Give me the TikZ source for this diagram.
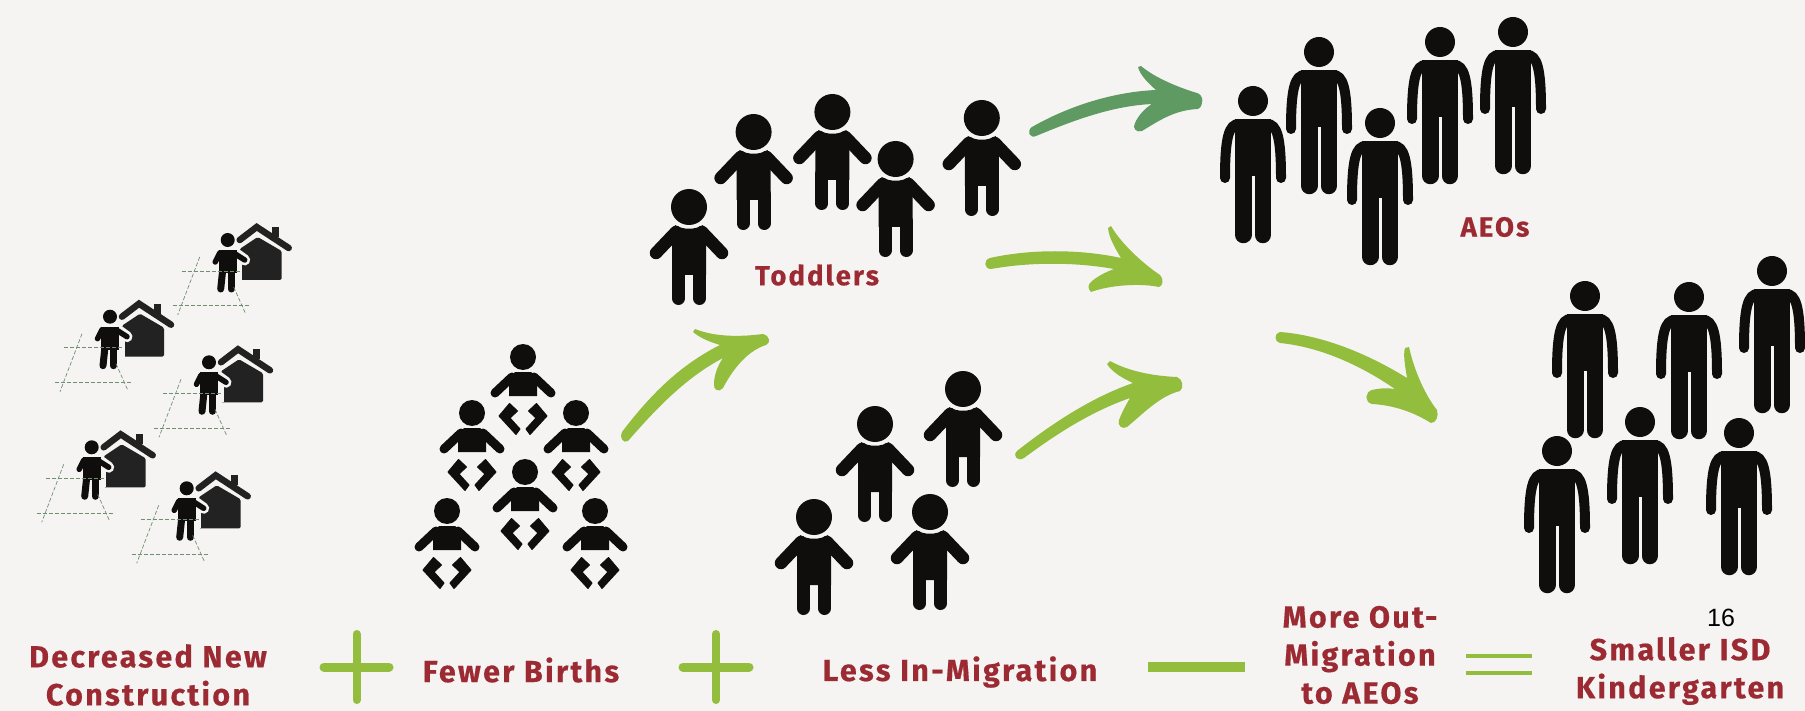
\documentclass[tikz,border=0pt]{standalone}
\usepackage{fontspec}
\usepackage{xcolor}
\usepackage{tikz}
\newfontfamily\labelfont[LetterSpace=7.5,BoldFeatures={FakeBold=0.4}]{Fira Sans}
\newfontfamily\pagefont{Liberation Sans}
\definecolor{paper}{HTML}{F5F4F2}
\definecolor{body_black}{HTML}{0F0E0D}
\definecolor{house_black}{HTML}{222222}
\definecolor{label_red}{HTML}{9B2A33}
\definecolor{arrow_green}{HTML}{93BD3C}
\definecolor{arrow_dark}{HTML}{5F9A62}
\definecolor{grid_green}{HTML}{6F9070}

\begin{document}
\begin{tikzpicture}[
      x=1pt,y=-1pt,
      label_st/.style={
         text=label_red,
         align=center,
         inner sep=0pt,
         font=\labelfont\bfseries\fontsize{30.5}{38}\selectfont},
      label_small/.style={
         label_st,
         font=\labelfont\bfseries\fontsize{27.5}{30}\selectfont},
      operator_st/.style={
         draw=arrow_green,
         line cap=round,
         line width=8pt},
      swoosh_st/.style={
         fill=arrow_green},
      grid_st/.style={
         draw=grid_green,
         line width=0.7pt,
         dash pattern=on 4pt off 2pt},
      toddler/.pic={
         \fill[body_black] (0,0) circle (18pt);
         \fill[body_black] (-14,18) .. controls (-6,23) and (6,23) .. (14,18) -- (17,30) -- (17,68) -- (-17,68) -- (-17,30) -- cycle;
         \foreach \s in {-1,1}{
            \draw[body_black,line width=12.5pt,line cap=round] (\s*13,25) -- (\s*33,46);
            \draw[body_black,line width=13pt,line cap=round] (\s*10.5,62) -- (\s*10.5,91.5);
         }
      },
      adult/.pic={
         \fill[body_black] (0,0) circle (15pt);
         \fill[body_black] (-18,18) rectangle (18,75);
         \foreach \s in {-1,1}{
            \draw[body_black,line width=10pt,line cap=round] (\s*14,23) .. controls (\s*24,23) and (\s*28,36) .. (\s*28,77);
            \draw[body_black,line width=16.5pt,line cap=round] (\s*9.75,70) -- (\s*9.75,134);
         }
      },
      baby/.pic={
         \fill[body_black] (0,0) circle (13pt);
         \fill[body_black] (-8,15) -- (8,15) -- (14,21) -- (14,39) -- (-14,39) -- (-14,21) -- cycle;
         \foreach \s in {-1,1}{
            \draw[body_black,line width=9pt,line cap=round] (\s*11,20) -- (\s*28,36);
            \filldraw[body_black,line width=1pt,line join=round] (\s*13.5,46.5) -- (\s*5.5,54) -- (\s*13,61) -- (\s*3,72) -- (\s*7,77.5) -- (\s*24,59) -- cycle;
         }
      },
      builder/.pic={
         %house
         \fill[house_black,rounded corners=1.5pt] (12,9) -- (30,-3) -- (54,11) -- (54,40) -- (12,40) -- cycle;
         \fill[house_black] (44,-13) rectangle (51,-3);
         \draw[house_black,line width=6.5pt,line cap=round] (12,0) -- (29,-13) -- (61,8);
         %person
         \draw[paper,line width=11pt,line cap=round] (6,12) -- (17,20);
         \draw[paper,line width=9pt] (10,14) -- (10,40);
         \fill[body_black] (0,0) circle (7pt);
         \fill[body_black] (-9,10) -- (9,10) -- (9,33) -- (-9,33) -- cycle;
         \draw[body_black,line width=5.5pt,line cap=round] (-8,13) -- (-12.5,22);
         \draw[body_black,line width=5.5pt,line cap=round] (6,13) -- (17,20);
         \draw[body_black,line width=7pt,line cap=round] (-5,30) -- (-7,49);
         \draw[body_black,line width=7pt,line cap=round] (3.5,30) -- (3.5,49);
         %lot
         \draw[grid_st] (-46,31) -- (12,31);
         \draw[grid_st,line width=1pt] (-55,66) -- (22,66);
         \draw[grid_st] (-28,17) -- (-50,75);
         \draw[grid_st] (6,47) -- (18,74);
      }
]
      \useasboundingbox (0,0) rectangle (1805,711);
      \fill[paper] (0,0) rectangle (1805,711);

      %builders
      \foreach \i/\x/\y in {1/227.7/240,2/110/316.7,3/209/362.3,4/91.7/447.3,5/186.7/488.3}
         \pic (builder\i) at (\x,\y) {builder};

      %babies
      \foreach \i/\x/\y in {1/523/357,2/472/413,3/576/413,4/525/472,5/447/511,6/595/511}
         \pic (baby\i) at (\x,\y) {baby};

      %toddlers
      \foreach \i/\x/\y in {1/689/207,2/753.6/132,3/832.4/112,4/895.6/159,5/981.8/118,6/875/424,7/963/389,8/814/517,9/930/512}
         \pic (toddler\i) at (\x,\y) {toddler};

      %adults
      \foreach \i/\x/\y in {1/1253/101,2/1319/52,3/1380/123,4/1440/42,5/1513/32,6/1585/296,7/1689/297,8/1772/271,9/1557/451,10/1640/422,11/1739/433}
         \pic (adult\i) at (\x,\y) {adult};

      %arrows
      \fill[swoosh_st] (622,432) .. controls (650,395) and (680,365) .. (720,345) .. controls (710,342) and (700,338) .. (693,332) -- (695,329) .. controls (715,337) and (740,337) .. (763,334) .. controls (770,336) and (771,343) .. (766,345) .. controls (750,350) and (735,365) .. (723,388) .. controls (719,393) and (713,390) .. (714,384) .. controls (714,375) and (718,365) .. (723,358) .. controls (685,378) and (655,410) .. (628,441) .. controls (623,444) and (619,437) .. (622,432) -- cycle;
      \fill[swoosh_st,fill=arrow_dark] (1032,127) .. controls (1065,108) and (1110,92) .. (1156,90) .. controls (1148,83) and (1140,75) .. (1138,67) -- (1141,66) .. controls (1155,78) and (1180,88) .. (1197,93) .. controls (1204,95) and (1204,106) .. (1198,109) .. controls (1175,110) and (1160,120) .. (1142,131) .. controls (1136,133) and (1132,128) .. (1135,123) .. controls (1138,116) and (1145,108) .. (1152,104) .. controls (1110,106) and (1070,122) .. (1036,136) .. controls (1030,139) and (1026,131) .. (1032,127) -- cycle;
      \fill[swoosh_st] (990,258) .. controls (1030,249) and (1080,249) .. (1121,258) .. controls (1115,248) and (1109,238) .. (1108,228) -- (1111,226) .. controls (1122,245) and (1145,265) .. (1160,275) .. controls (1164,279) and (1163,286) .. (1159,287) .. controls (1140,283) and (1110,285) .. (1091,292) .. controls (1087,288) and (1088,284) .. (1092,281) .. controls (1098,276) and (1106,272) .. (1114,269) .. controls (1075,262) and (1030,262) .. (991,269) .. controls (984,269) and (983,260) .. (990,258) -- cycle;
      \fill[swoosh_st] (1017,451) .. controls (1050,425) and (1090,398) .. (1133,383) .. controls (1122,378) and (1112,372) .. (1107,364) -- (1110,361) .. controls (1130,372) and (1155,376) .. (1177,377) .. controls (1183,379) and (1184,388) .. (1180,391) .. controls (1160,396) and (1145,412) .. (1127,427) .. controls (1122,430) and (1117,425) .. (1119,420) .. controls (1122,412) and (1126,405) .. (1130,398) .. controls (1090,412) and (1055,435) .. (1024,458) .. controls (1018,462) and (1012,456) .. (1017,451) -- cycle;
      \fill[swoosh_st] (1280,332) .. controls (1320,335) and (1365,352) .. (1407,378) .. controls (1405,365) and (1403,355) .. (1405,348) -- (1409,347) .. controls (1414,370) and (1425,395) .. (1437,410) .. controls (1439,416) and (1436,423) .. (1431,423) .. controls (1410,410) and (1390,405) .. (1372,404) .. controls (1364,402) and (1365,392) .. (1372,390) .. controls (1380,388) and (1388,388) .. (1395,389) .. controls (1360,365) and (1320,347) .. (1280,343) .. controls (1274,342) and (1274,333) .. (1280,332) -- cycle;

      %labels
      \node[label_st] (construction) at (148,675) {Decreased New\\Construction};
      \node[label_st] (births) at (521,670) {Fewer Births};
      \node[label_st] (inmigration) at (960,672) {Less In-Migration};
      \node[label_st] (outmigration) at (1360,655) {More Out-\\Migration\\to AEOs};
      \node[label_st] (kindergarten) at (1680,671) {Smaller ISD\\Kindergarten};
      \node[label_small] (toddlers) at (817,275) {Toddlers};
      \node[label_small] (aeos) at (1495,227) {AEOs};
      \node[inner sep=0pt,font=\pagefont\fontsize{25}{30}\selectfont] (pagenum) at (1721,618) {16};

      %operators
      \foreach \xa/\xb/\xc in {324/389/356.5,683/749/716}{
         \draw[operator_st,line width=9pt] (\xa,667) -- (\xb,667);
         \draw[operator_st] (\xc,634) -- (\xc,700);
      }
      \draw[operator_st,line cap=butt,line width=10pt] (1148,667) -- (1245,667);
      \draw[operator_st,line cap=butt,line width=4.5pt] (1466,656) -- (1532,656);
      \draw[operator_st,line cap=butt,line width=4.5pt] (1466,673) -- (1532,673);

\end{tikzpicture}
\end{document}
